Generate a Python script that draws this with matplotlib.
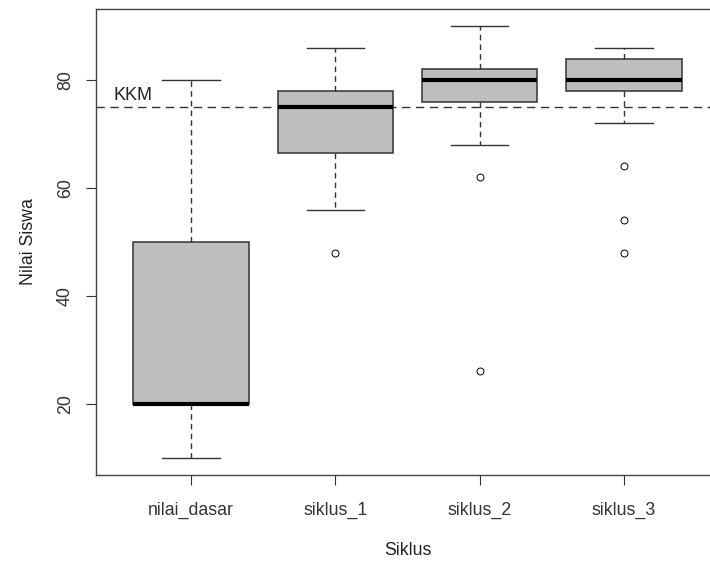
import numpy as np
import matplotlib
matplotlib.use("Agg")
import matplotlib.pyplot as plt

plt.rcParams['font.family'] = ['Liberation Sans', 'DejaVu Sans']

# data
kelompok = ["nilai_dasar", "siklus_1", "siklus_2", "siklus_3"]
whis_lo = [10, 56, 68, 72]
q1 = [20, 66.5, 76, 78]
median = [20, 75, 80, 80]
q3 = [50, 78, 82, 84]
whis_hi = [80, 86, 90, 86]
outlier = [[], [48], [62, 26], [64, 54, 48]]
kkm = 75

stats = []
for i in range(len(kelompok)):
    stats.append(dict(label=kelompok[i], whislo=whis_lo[i], q1=q1[i], med=median[i],
                      q3=q3[i], whishi=whis_hi[i], fliers=outlier[i]))

fig = plt.figure(figsize=(7.10, 5.62), dpi=100)
W, H = 710, 562
ax = fig.add_axes([96/W, 1 - 475/H, (719-96)/W, (475-9)/H])

edge = "#333333"
fs = 12.8
ax.bxp(stats, positions=np.arange(1, len(kelompok)+1), widths=0.8, patch_artist=True,
       boxprops=dict(facecolor="#bebebe", edgecolor=edge, linewidth=1.1),
       medianprops=dict(color="black", linewidth=3, solid_capstyle="butt"),
       whiskerprops=dict(color=edge, linewidth=1, linestyle=(0, (4, 3))),
       capprops=dict(color=edge, linewidth=1),
       flierprops=dict(marker="o", markersize=5, markerfacecolor="white",
                       markeredgecolor="black", markeredgewidth=0.7))

ax.axhline(kkm, color="#333333", linewidth=1, linestyle=(0, (6, 4)), zorder=0.5)
ax.text(0.46, kkm + 0.5, "KKM", fontsize=13, color="#222222", ha="left", va="bottom")

ax.set_xlim(0.34, 4.66)
ax.set_ylim(6.8, 93.2)
ax.set_yticks([20, 40, 60, 80])
ax.tick_params(axis="y", labelrotation=90, length=7, pad=9, labelsize=fs, colors="#333333")
ax.tick_params(axis="x", length=7, pad=12, labelsize=fs, colors="#333333")
for t in ax.get_yticklabels():
    t.set_va("center")
for s in ax.spines.values():
    s.set_color("#444444")
    s.set_linewidth(1)

ax.set_xlabel("Siklus", fontsize=fs, color="#222222", labelpad=17)
ax.set_ylabel("Nilai Siswa", fontsize=fs, color="#222222", labelpad=14)

fig.savefig("out.png", dpi=100)
